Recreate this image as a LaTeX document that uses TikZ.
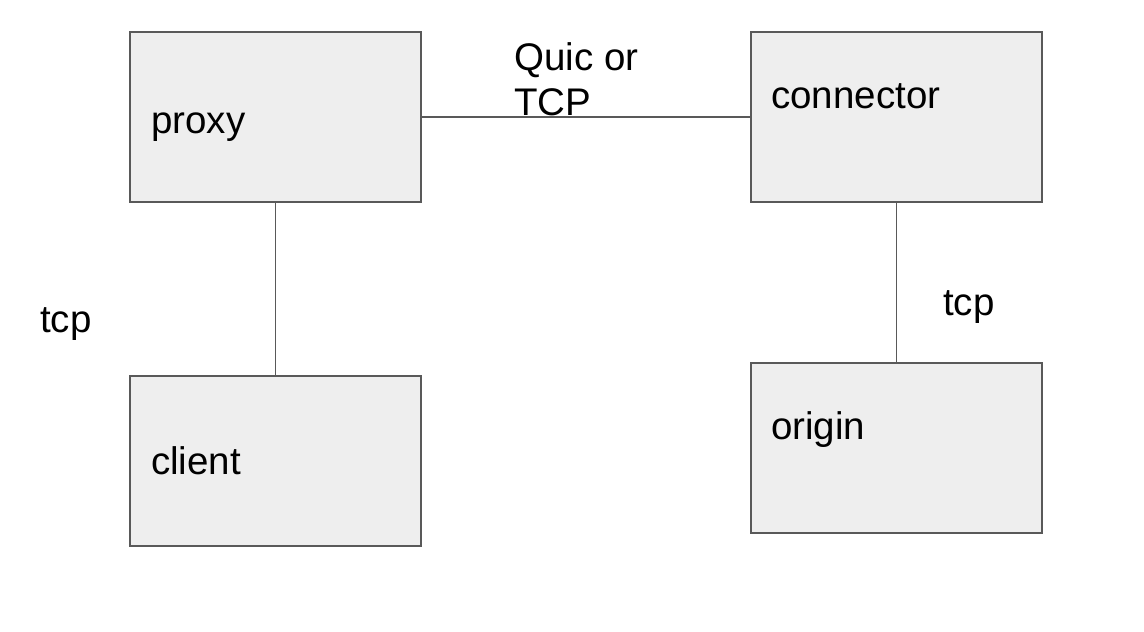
\documentclass[tikz,border=0pt]{standalone}
\usepackage{fontspec}
\setmainfont{Liberation Sans}
\usepackage{tikz}
\usepackage{xcolor}
\definecolor{boxfill}{HTML}{EEEEEE}
\definecolor{boxline}{HTML}{595959}
\tikzset{
    gray-box/.style = {draw=boxline, fill=boxfill, line width=1.6pt, rectangle, minimum width=291pt, minimum height=170pt, inner sep=0pt},
    box-label/.style = {anchor=base west, inner sep=0pt, font=\fontsize{38.5}{44}\selectfont},
    link/.style = {draw=boxline, line width=1.6pt},
}

\begin{document}
\begin{tikzpicture}[x=1pt, y=-1pt]
\useasboundingbox (0,0) rectangle (1144,632);
\node [gray-box] (proxy) at (275.5,117) {};
\node [gray-box] (connector) at (896.5,117) {};
\node [gray-box] (client) at (275.5,461) {};
\node [gray-box] (origin) at (896.5,448) {};
\draw [link] (proxy) -- (connector);
\draw [link] (proxy) -- (client);
\draw [link] (connector) -- (origin);
\node[box-label] (proxy-text) at (151,133) {proxy};
\node[box-label] (connector-text) at (771,108) {connector};
\node[box-label] (client-text) at (151,474) {client};
\node[box-label] (origin-text) at (771,439) {origin};
\node[box-label] (quic-text) at (514,70) {Quic or};
\node[box-label] (tcp-text) at (514,115) {TCP};
\node[box-label] (left-tcp) at (40,332) {tcp};
\node[box-label] (right-tcp) at (943,315) {tcp};
\end{tikzpicture}
\end{document}
